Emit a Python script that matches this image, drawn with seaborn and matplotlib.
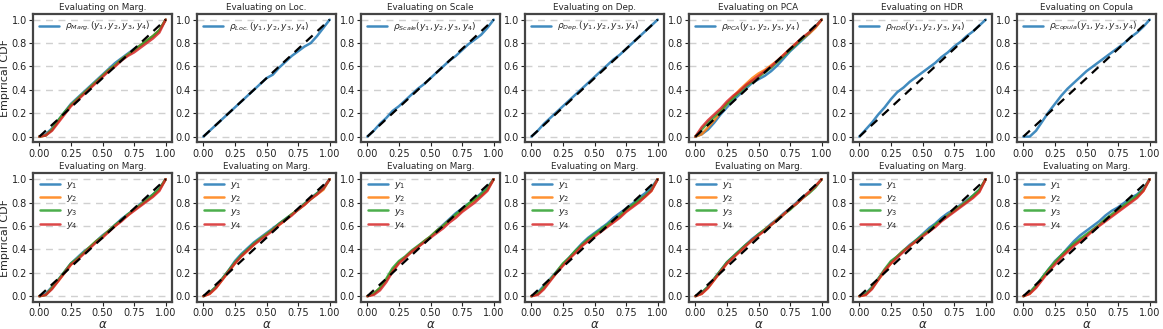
import numpy as np
import pandas as pd
import matplotlib
matplotlib.use("Agg")
import matplotlib.pyplot as plt
import seaborn as sns

alpha = [0, .05, .1, .15, .2, .25, .3, .35, .4, .45, .5, .55, .6, .65, .7, .75, .8, .85, .9, .95, 1.0]

top_titles = ["Evaluating on Marg.", "Evaluating on Loc.", "Evaluating on Scale", "Evaluating on Dep.",
              "Evaluating on PCA", "Evaluating on HDR", "Evaluating on Copula"]
top_subs = ["Marg.", "Loc.", "Scale", "Dep.", "PCA", "HDR", "Copula"]
bottom_title = "Evaluating on Marg."
series_names = ["$y_1$", "$y_2$", "$y_3$", "$y_4$"]

# top row: list of series per panel
top_marg = [
    [0, .02, .07, .14, .21, .28, .33, .38, .43, .48, .53, .58, .63, .67, .71, .75, .78, .82, .86, .91, 1.0],
    [0, .01, .06, .13, .20, .27, .32, .37, .42, .47, .52, .57, .61, .66, .70, .74, .78, .82, .86, .91, 1.0],
    [0, .01, .06, .14, .21, .27, .32, .37, .42, .47, .52, .57, .61, .66, .70, .74, .78, .82, .86, .91, 1.0],
    [0, .01, .05, .12, .19, .26, .31, .36, .41, .46, .51, .56, .60, .65, .69, .72, .76, .80, .84, .89, 1.0],
]
top_loc = [[0, .05, .10, .15, .20, .25, .30, .35, .40, .45, .50, .53, .59, .64, .69, .73, .77, .80, .86, .93, 1.0]]
top_scale = [[0, .05, .11, .16, .22, .26, .31, .36, .41, .45, .50, .55, .60, .65, .69, .74, .79, .83, .87, .93, 1.0]]
top_dep = [[0, .05, .11, .16, .21, .26, .31, .36, .41, .46, .51, .56, .61, .66, .70, .75, .80, .85, .90, .95, 1.0]]
top_pca = [
    [0, .02, .06, .12, .19, .25, .31, .36, .41, .46, .49, .52, .56, .61, .67, .73, .78, .83, .88, .94, 1.0],
    [0, .02, .08, .14, .21, .28, .34, .40, .45, .50, .54, .57, .61, .65, .70, .75, .80, .84, .88, .93, 1.0],
    [0, .06, .12, .17, .22, .28, .33, .38, .43, .47, .51, .55, .59, .64, .69, .74, .79, .84, .89, .94, 1.0],
    [0, .08, .14, .19, .24, .30, .35, .39, .44, .48, .52, .56, .60, .65, .70, .75, .80, .85, .89, .94, 1.0],
]
top_hdr = [[0, .06, .12, .19, .25, .32, .38, .42, .47, .51, .55, .59, .63, .68, .72, .77, .81, .86, .90, .95, 1.0]]
top_cop = [[0, .0, .05, .13, .21, .28, .35, .41, .46, .51, .56, .60, .64, .68, .72, .76, .80, .85, .89, .94, 1.0]]
top_series = [top_marg, top_loc, top_scale, top_dep, top_pca, top_hdr, top_cop]

bot1 = [
    [0, .02, .08, .14, .21, .28, .33, .38, .42, .47, .52, .56, .61, .66, .70, .74, .79, .83, .87, .92, 1.0],
    [0, .01, .07, .13, .20, .27, .32, .37, .42, .47, .51, .56, .60, .65, .69, .74, .78, .82, .86, .91, 1.0],
    [0, .01, .07, .14, .21, .28, .32, .37, .42, .47, .51, .56, .61, .65, .70, .74, .78, .82, .87, .92, 1.0],
    [0, .01, .06, .13, .20, .27, .31, .36, .41, .46, .50, .55, .60, .64, .69, .73, .77, .81, .85, .90, 1.0],
]
bot2 = [
    [0, .03, .08, .15, .22, .30, .36, .41, .46, .50, .54, .58, .62, .66, .70, .74, .79, .84, .88, .93, 1.0],
    [0, .02, .07, .14, .21, .28, .34, .39, .44, .49, .53, .57, .61, .65, .70, .74, .78, .83, .87, .91, 1.0],
    [0, .03, .08, .15, .22, .29, .35, .40, .45, .49, .53, .57, .62, .66, .70, .74, .79, .83, .88, .92, 1.0],
    [0, .02, .07, .14, .21, .28, .34, .39, .44, .48, .52, .56, .61, .65, .69, .74, .78, .83, .87, .92, 1.0],
]
bot3 = [
    [0, .02, .07, .14, .22, .29, .33, .38, .42, .47, .51, .56, .61, .66, .71, .75, .79, .83, .88, .93, 1.0],
    [0, .02, .07, .14, .22, .29, .33, .38, .42, .47, .51, .56, .60, .65, .69, .73, .78, .82, .86, .91, 1.0],
    [0, .02, .07, .15, .24, .30, .34, .39, .43, .47, .51, .56, .60, .65, .70, .74, .79, .83, .87, .92, 1.0],
    [0, .01, .05, .12, .21, .28, .33, .38, .42, .46, .50, .54, .58, .63, .67, .72, .76, .80, .85, .90, 1.0],
]
bot4 = [
    [0, .03, .09, .15, .21, .27, .33, .39, .45, .50, .54, .58, .62, .67, .71, .75, .79, .84, .88, .93, 1.0],
    [0, .02, .07, .14, .20, .27, .32, .38, .43, .48, .52, .56, .60, .64, .68, .73, .77, .81, .85, .90, 1.0],
    [0, .02, .08, .14, .21, .28, .33, .39, .44, .49, .53, .57, .61, .65, .69, .74, .78, .82, .86, .91, 1.0],
    [0, .01, .06, .13, .20, .26, .32, .37, .43, .47, .51, .55, .59, .63, .67, .72, .76, .80, .85, .90, 1.0],
]
bot5 = [
    [0, .03, .08, .15, .22, .29, .34, .39, .44, .49, .53, .57, .62, .66, .71, .75, .80, .85, .89, .94, 1.0],
    [0, .02, .07, .14, .21, .28, .33, .38, .43, .48, .52, .57, .61, .66, .70, .75, .79, .84, .89, .94, 1.0],
    [0, .03, .08, .15, .22, .29, .34, .39, .44, .48, .53, .57, .61, .65, .70, .74, .79, .84, .88, .93, 1.0],
    [0, .02, .07, .14, .21, .28, .33, .38, .43, .48, .52, .56, .61, .65, .70, .75, .79, .84, .89, .94, 1.0],
]
bot6 = [
    [0, .02, .08, .15, .21, .29, .34, .39, .44, .48, .53, .58, .62, .67, .71, .74, .78, .82, .86, .91, 1.0],
    [0, .01, .07, .14, .21, .28, .34, .39, .43, .47, .52, .56, .60, .65, .69, .73, .77, .81, .85, .90, 1.0],
    [0, .02, .07, .15, .23, .30, .34, .39, .43, .48, .52, .56, .61, .65, .69, .73, .77, .81, .86, .91, 1.0],
    [0, .01, .06, .14, .22, .28, .33, .38, .43, .47, .51, .55, .59, .64, .68, .72, .76, .80, .84, .89, 1.0],
]
bot7 = [
    [0, .03, .09, .16, .23, .30, .35, .41, .47, .52, .56, .60, .64, .69, .73, .76, .80, .84, .87, .92, 1.0],
    [0, .02, .08, .15, .22, .29, .34, .39, .44, .48, .52, .56, .61, .65, .69, .73, .77, .81, .85, .90, 1.0],
    [0, .03, .09, .16, .23, .29, .35, .40, .45, .49, .53, .57, .61, .66, .70, .74, .78, .82, .86, .91, 1.0],
    [0, .02, .07, .14, .21, .27, .33, .38, .43, .47, .51, .56, .60, .64, .68, .72, .76, .80, .84, .90, 1.0],
]
bottom_series = [bot1, bot2, bot3, bot4, bot5, bot6, bot7]

sns.set_style("ticks")
colors = sns.color_palette("tab10", 4)

fig, axes = plt.subplots(2, 7, figsize=(11.63, 3.29), dpi=100)
fig.subplots_adjust(left=0.0284, right=0.994, top=0.958, bottom=0.082, wspace=0.18, hspace=0.24)


def style_ax(ax):
    ax.set_xlim(-0.05, 1.05)
    ax.set_ylim(-0.05, 1.05)
    ax.set_xticks([0, .25, .5, .75, 1.0])
    ax.set_xticklabels(["0.00", "0.25", "0.50", "0.75", "1.00"])
    ax.set_yticks([0, .2, .4, .6, .8, 1.0])
    ax.yaxis.grid(True, linestyle=(0, (5, 4)), color="#d0d0d0", linewidth=1.0)
    ax.set_axisbelow(True)
    ax.tick_params(labelsize=7, length=3, width=0.8, pad=1.5, colors="#222222")
    for s in ax.spines.values():
        s.set_linewidth(1.6)
        s.set_color("#444444")


for j in range(7):
    ax = axes[0, j]
    for k, vals in enumerate(top_series[j]):
        lab = r"$\rho_{\mathit{" + top_subs[j] + r"}}(y_1, y_2, y_3, y_4)$" if k == 0 else None
        sns.lineplot(x=alpha, y=vals, ax=ax, color=colors[k], lw=1.8, alpha=0.85, label=lab, legend=False)
    sns.lineplot(x=[0, 1], y=[0, 1], ax=ax, color="black", lw=1.6, linestyle=(0, (4, 3)), legend=False)
    style_ax(ax)
    ax.set_title(top_titles[j], fontsize=6.3, pad=3)
    ax.legend(loc="upper left", frameon=False, fontsize=6.5, handlelength=2.2,
              borderaxespad=0.3, handletextpad=0.6)
    ax.set_xlabel("")
    ax.set_ylabel("")

    ax = axes[1, j]
    for k, vals in enumerate(bottom_series[j]):
        sns.lineplot(x=alpha, y=vals, ax=ax, color=colors[k], lw=1.8, alpha=0.85,
                     label=series_names[k], legend=False)
    sns.lineplot(x=[0, 1], y=[0, 1], ax=ax, color="black", lw=1.6, linestyle=(0, (4, 3)), legend=False)
    style_ax(ax)
    ax.set_title(bottom_title, fontsize=6.3, pad=3)
    ax.legend(loc="upper left", frameon=False, fontsize=6.8, handlelength=2.2,
              borderaxespad=0.3, handletextpad=0.6, labelspacing=0.25)
    ax.set_xlabel(r"$\alpha$", fontsize=8.5, labelpad=0)
    ax.set_ylabel("")

axes[0, 0].set_ylabel("Empirical CDF", fontsize=8, labelpad=1)
axes[1, 0].set_ylabel("Empirical CDF", fontsize=8, labelpad=1)

fig.savefig("out.png", dpi=100)
